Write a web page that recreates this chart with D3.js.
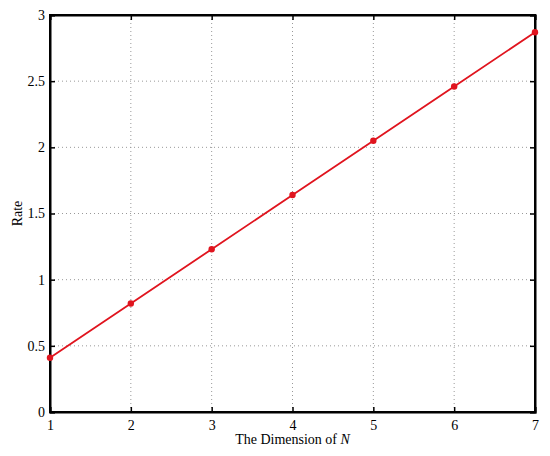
<!DOCTYPE html>
<html><head><meta charset="utf-8">
<script src="https://cdn.jsdelivr.net/npm/d3@7"></script>
<style>body{margin:0;background:#fff}svg{display:block}</style>
</head><body>
<svg id="c" width="550" height="456"></svg>
<script>
const dims = [1,2,3,4,5,6,7];
const rates = [0.41,0.82,1.23,1.64,2.05,2.46,2.87];
const xTicks = [1,2,3,4,5,6,7];
const yTicks = [0,0.5,1,1.5,2,2.5,3];
const yTickLabels = ["0","0.5","1","1.5","2","2.5","3"];

const svg = d3.select("#c");
const L=50,R=535,T=15,B=412;
const x = d3.scaleLinear().domain([1,7]).range([L,R]);
const y = d3.scaleLinear().domain([0,3]).range([B,T]);
const font = "'Liberation Serif','Times New Roman',serif";

// grid
const g = svg.append("g");
g.selectAll(".vg").data(xTicks.slice(1,-1)).enter().append("line")
 .attr("x1",d=>x(d)).attr("x2",d=>x(d)).attr("y1",T).attr("y2",B)
 .attr("stroke","#999").attr("stroke-width",1).attr("stroke-dasharray","1,3");
g.selectAll(".hg").data(yTicks.slice(1,-1)).enter().append("line")
 .attr("y1",d=>y(d)).attr("y2",d=>y(d)).attr("x1",L).attr("x2",R)
 .attr("stroke","#999").attr("stroke-width",1).attr("stroke-dasharray","1,3");

// axes
const ax = svg.append("g").attr("transform",`translate(0,${B})`).call(d3.axisBottom(x).tickValues(xTicks).tickSize(-5).tickPadding(8).tickFormat(d3.format("d")));
const axT = svg.append("g").attr("transform",`translate(0,${T})`).call(d3.axisTop(x).tickValues(xTicks).tickSize(-5).tickFormat(""));
const ay = svg.append("g").attr("transform",`translate(${L},0)`).call(d3.axisLeft(y).tickValues(yTicks).tickSize(-5).tickPadding(5).tickFormat((d,i)=>yTickLabels[i]));
const ayR = svg.append("g").attr("transform",`translate(${R},0)`).call(d3.axisRight(y).tickValues(yTicks).tickSize(-5).tickFormat(""));
[ax,axT,ay,ayR].forEach(a=>{
  a.select(".domain").attr("stroke","#000").attr("stroke-width",2);
  a.selectAll(".tick line").attr("stroke","#000").attr("stroke-width",1.5);
  a.selectAll("text").attr("font-family",font).attr("font-size",14).attr("fill","#000");
});
svg.append("rect").attr("x",L).attr("y",T).attr("width",R-L).attr("height",B-T).attr("fill","none").attr("stroke","#000").attr("stroke-width",2);

// line
const pts = dims.map((d,i)=>[d,rates[i]]);
svg.append("path").datum(pts).attr("fill","none").attr("stroke","#e0141e").attr("stroke-width",1.8)
 .attr("d",d3.line().x(d=>x(d[0])).y(d=>y(d[1])));
svg.selectAll(".pt").data(pts).enter().append("circle")
 .attr("cx",d=>x(d[0])).attr("cy",d=>y(d[1])).attr("r",3.2).attr("fill","#e0141e");

// labels
const xl = svg.append("text").attr("x",(L+R)/2).attr("y",444).attr("text-anchor","middle")
 .attr("font-family",font).attr("font-size",14).attr("fill","#000");
xl.append("tspan").text("The Dimension of ");
xl.append("tspan").attr("font-style","italic").text("N");
svg.append("text").attr("transform",`translate(22,${(T+B)/2}) rotate(-90)`).attr("text-anchor","middle")
 .attr("font-family",font).attr("font-size",14).attr("fill","#000").text("Rate");
</script>
</body></html>
